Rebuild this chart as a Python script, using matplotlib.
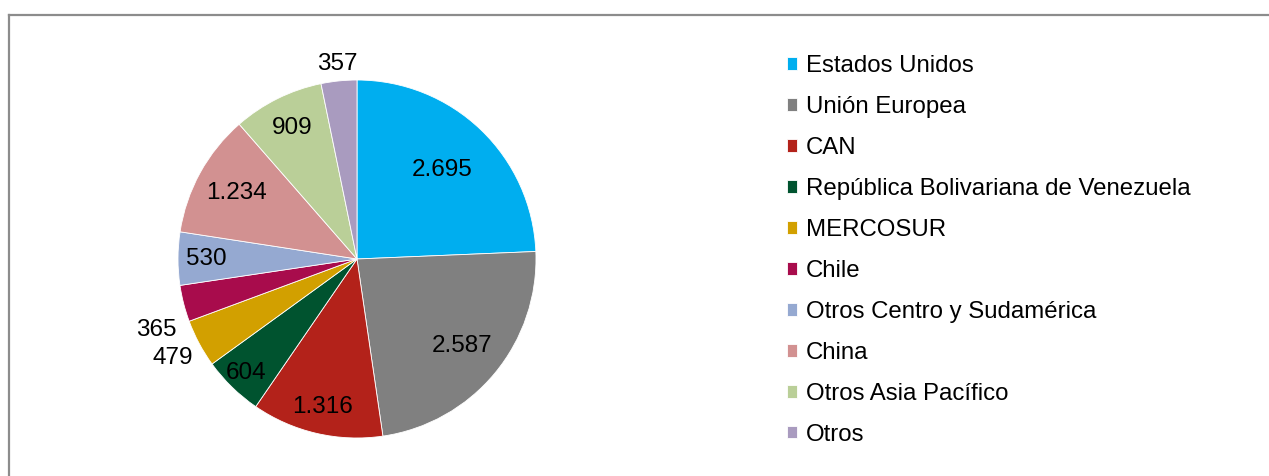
import numpy as np
import matplotlib
matplotlib.use("Agg")
import matplotlib.pyplot as plt
from matplotlib.lines import Line2D

plt.rcParams['font.family'] = ['Liberation Sans', 'DejaVu Sans']

categories = ["Estados Unidos", "Unión Europea", "CAN", "República Bolivariana de Venezuela",
              "MERCOSUR", "Chile", "Otros Centro y Sudamérica", "China",
              "Otros Asia Pacífico", "Otros"]
values = [2695, 2587, 1316, 604, 479, 365, 530, 1234, 909, 357]
value_labels = ["2.695", "2.587", "1.316", "604", "479", "365", "530", "1.234", "909", "357"]
colors = ["#00AEEF", "#808080", "#B3221A", "#00532F", "#D2A000",
          "#A80C4C", "#95A9D1", "#D29191", "#BACF98", "#A99BBF"]
# radial position of each label (fraction of radius)
label_r = [0.69, 0.76, 0.85, 0.89, 1.17, 1.19, 0.84, 0.77, 0.82, 1.095]
label_dang = [0, 0, 0, 0, 0, 5, 0, 0, 0, 0]

W, H = 1269, 476
fig = plt.figure(figsize=(W / 100, H / 100), dpi=100)

cx, cy, R = 357, 259, 179
ax = fig.add_axes([(cx - R) / W, (H - cy - R) / H, 2 * R / W, 2 * R / H])
wedges, _ = ax.pie(values, colors=colors, startangle=90, counterclock=False,
                   radius=1.0, wedgeprops=dict(linewidth=0.6, edgecolor="white"))
ax.set_xlim(-1, 1)
ax.set_ylim(-1, 1)
ax.set_aspect('equal')
ax.axis('off')

for w, lab, r, da in zip(wedges, value_labels, label_r, label_dang):
    ang = np.deg2rad((w.theta1 + w.theta2) / 2 + da)
    ax.text(r * np.cos(ang), r * np.sin(ang), lab, ha='center', va='center',
            fontsize=17.5, color='black', clip_on=False)

leg = fig.legend(wedges, categories, loc='upper left',
                 bbox_to_anchor=(787 / W, 1 - 55 / H), frameon=False,
                 fontsize=17.3, handlelength=0.42, handleheight=0.42,
                 handletextpad=0.38, labelspacing=0.79, borderpad=0, borderaxespad=0)

# partial border (top and left)
fig.add_artist(Line2D([9 / W, 1.0], [1 - 15 / H, 1 - 15 / H], color="#8C8C8C", lw=1.6,
                      transform=fig.transFigure))
fig.add_artist(Line2D([9 / W, 9 / W], [0, 1 - 15 / H], color="#8C8C8C", lw=1.6,
                      transform=fig.transFigure))

fig.savefig("out.png", dpi=100, facecolor="white")
